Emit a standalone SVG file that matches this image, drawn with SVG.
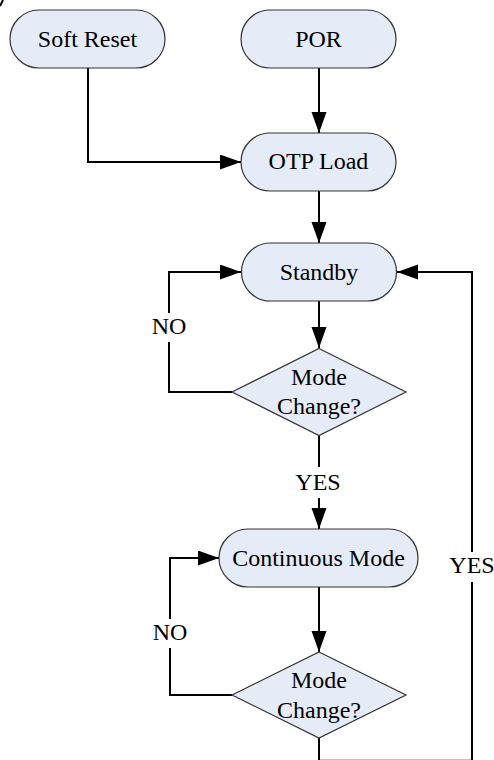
<svg xmlns="http://www.w3.org/2000/svg" width="494" height="760" viewBox="0 0 494 760">
<style>
.node{fill:#E6ECF7;stroke:#333;stroke-width:1.2}
.lbl{font-family:'Liberation Serif','Times New Roman','DejaVu Serif',serif;font-size:24px;fill:#000;text-anchor:middle}
.conn{fill:none;stroke:#000;stroke-width:2}
</style>
<defs>
<marker id="arr" markerUnits="userSpaceOnUse" markerWidth="22" markerHeight="16" refX="21" refY="7.5" orient="auto">
<path d="M0,0 L21,7.5 L0,15 z" fill="#000"/>
</marker>
</defs>
<rect width="494" height="760" fill="#fff"/>
<path d="M0,6 L3,0" stroke="#000" stroke-width="2"/>
<g id="connectors" class="conn">
<path d="M88,68 V162 H241" marker-end="url(#arr)"/>
<path d="M319,68 V133" marker-end="url(#arr)"/>
<path d="M319,191 V243" marker-end="url(#arr)"/>
<path d="M319,301 V348" marker-end="url(#arr)"/>
<path d="M232,392 H169 V342"/>
<path d="M169,313 V272 H241" marker-end="url(#arr)"/>
<path d="M319,435.5 V467"/>
<path d="M319,498 V529" marker-end="url(#arr)"/>
<path d="M319,587 V652" marker-end="url(#arr)"/>
<path d="M232,695 H170 V648"/>
<path d="M170,619 V558 H219" marker-end="url(#arr)"/>
<path d="M319,738 V760.7 H472 V582"/>
<path d="M472,552 V272 H397" marker-end="url(#arr)"/>
</g>
<g id="soft-reset">
<rect class="node" x="10" y="10" width="155" height="58" rx="29"/>
<text class="lbl" font-family="Liberation Serif, serif" x="87.5" y="47">Soft Reset</text>
</g>
<g id="por">
<rect class="node" x="241" y="10" width="155" height="58" rx="29"/>
<text class="lbl" font-family="Liberation Serif, serif" x="318.5" y="47">POR</text>
</g>
<g id="otp-load">
<rect class="node" x="241" y="133" width="155" height="58" rx="29"/>
<text class="lbl" font-family="Liberation Serif, serif" x="318.5" y="168.5">OTP Load</text>
</g>
<g id="standby">
<rect class="node" x="241.5" y="243" width="155" height="58" rx="29"/>
<text class="lbl" font-family="Liberation Serif, serif" x="319" y="280">Standby</text>
</g>
<g id="mode-change-1">
<polygon class="node" points="319,348.5 406,392 319,435.5 232,392"/>
<text class="lbl" font-family="Liberation Serif, serif" x="319" y="385">Mode</text>
<text class="lbl" font-family="Liberation Serif, serif" x="319" y="414">Change?</text>
</g>
<g id="continuous-mode">
<rect class="node" x="219" y="529" width="199" height="58" rx="29"/>
<text class="lbl" font-family="Liberation Serif, serif" x="318.5" y="565.5">Continuous Mode</text>
</g>
<g id="mode-change-2">
<polygon class="node" points="319,652 406,695 319,738 232,695"/>
<text class="lbl" font-family="Liberation Serif, serif" x="319" y="688">Mode</text>
<text class="lbl" font-family="Liberation Serif, serif" x="319" y="717.5">Change?</text>
</g>
<g id="labels">
<text class="lbl" font-family="Liberation Serif, serif" x="169" y="334">NO</text>
<text class="lbl" font-family="Liberation Serif, serif" x="170" y="640">NO</text>
<text class="lbl" font-family="Liberation Serif, serif" x="318" y="490">YES</text>
<text class="lbl" font-family="Liberation Serif, serif" x="472" y="573">YES</text>
</g>
</svg>
